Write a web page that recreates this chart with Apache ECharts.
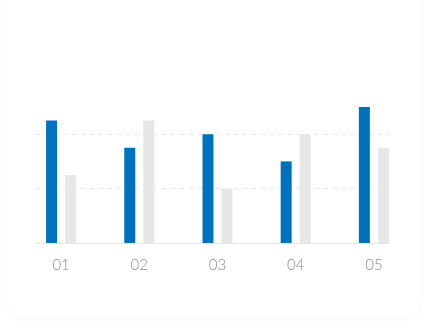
<!DOCTYPE html>
<html>
<head>
<meta charset="utf-8">
<script src="https://cdn.jsdelivr.net/npm/echarts@6/dist/echarts.min.js"></script>
<style>
html,body{margin:0;padding:0;background:#ffffff;width:426px;height:329px;overflow:hidden;}
#card{position:absolute;left:7px;top:-30px;width:414px;height:347px;border-radius:16px;background:#fff;box-shadow:0 1px 6px rgba(0,0,0,0.045);}
#chart{position:absolute;left:0;top:0;width:426px;height:329px;}
</style>
</head>
<body>
<div id="card"></div>
<div id="chart"></div>
<script>
const categories = ['01', '02', '03', '04', '05'];
const seriesA = [2.25, 1.75, 2, 1.5, 2.5];
const seriesB = [1.25, 2.25, 1, 2, 1.75];
const yMax = 2.5;

const chart = echarts.init(document.getElementById('chart'), null, {renderer: 'canvas'});
const gridLine = '#e4e7eb';
chart.setOption({
  animation: false,
  grid: [
    {left: 22, right: 13, top: 107, bottom: 86},
    {left: 36, right: 37, top: 107, bottom: 86}
  ],
  xAxis: [
    {
      type: 'category', gridIndex: 0, data: categories,
      axisLine: {show: false}, axisTick: {show: false},
      axisLabel: {color: '#8e8e8e', fontSize: 15, fontWeight: 300, margin: 15, fontFamily: 'Lato'},
      splitLine: {show: false}
    },
    {
      type: 'value', gridIndex: 1, min: 0, max: 1,
      axisLine: {show: true, lineStyle: {color: '#e3e5e8', width: 1}},
      axisTick: {show: false}, axisLabel: {show: false}, splitLine: {show: false}
    }
  ],
  yAxis: [
    {
      type: 'value', gridIndex: 0, min: 0, max: yMax,
      axisLine: {show: false}, axisTick: {show: false}, axisLabel: {show: false}, splitLine: {show: false}
    },
    {
      type: 'value', gridIndex: 1, min: 0, max: yMax, interval: 1,
      axisLine: {show: false}, axisTick: {show: false}, axisLabel: {show: false},
      splitLine: {show: true, lineStyle: {color: ['rgba(0,0,0,0)', gridLine, gridLine, 'rgba(0,0,0,0)'], type: [4, 5], width: 1}}
    }
  ],
  series: [
    {type: 'bar', xAxisIndex: 0, yAxisIndex: 0, data: seriesA, barWidth: 11, barGap: '73%', itemStyle: {color: '#0071bd'}},
    {type: 'bar', xAxisIndex: 0, yAxisIndex: 0, data: seriesB, barWidth: 11, barGap: '73%', itemStyle: {color: '#e6e7e9'}}
  ]
});
</script>
</body>
</html>
